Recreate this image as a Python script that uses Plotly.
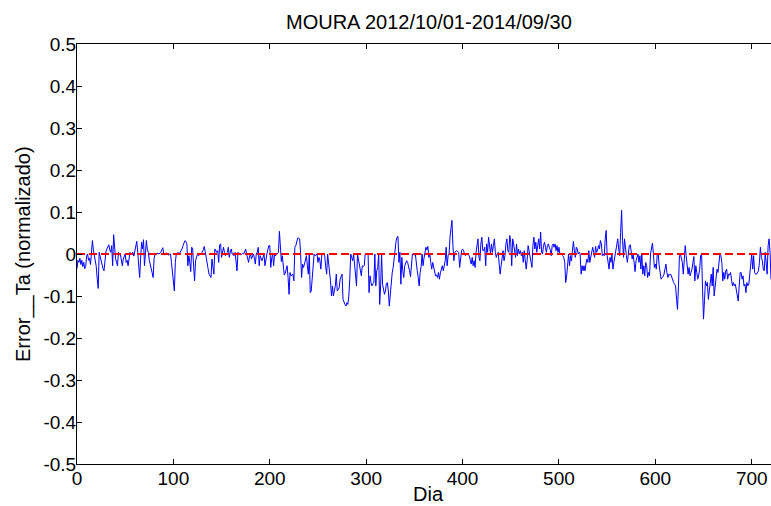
import plotly.graph_objects as go

# Daily normalized error values, day 0 .. 720
err = [
    -0.035, -0.015, -0.02, -0.01, -0.025, -0.015, -0.03, -0.02, -0.035, -0.03,
    -0.005, 0.0, -0.015, -0.01, -0.025, 0.005, 0.032, 0.01, -0.005, -0.025,
    -0.03, -0.06, -0.082, 0.004, -0.008, -0.015, -0.025, -0.035, -0.04, -0.01,
    0.005, 0.012, 0.02, 0.022, 0.01, 0.004, 0.02, -0.028, 0.046, 0.004,
    -0.01, -0.02, -0.028, 0.004, -0.002, 0.0, -0.015, -0.028, -0.012, -0.005,
    0.0, -0.02, -0.015, -0.028, -0.01, 0.004, 0.0, 0.002, 0.004, -0.005,
    0.008, 0.012, 0.03, 0.004, -0.02, -0.056, -0.01, 0.028, 0.012, 0.034,
    -0.028, 0.01, 0.032, 0.01, 0.004, -0.015, -0.028, -0.032, -0.045, -0.056,
    -0.01, 0.0, -0.002, 0.0, 0.002, 0.0, 0.002, 0.004, 0.01, 0.015,
    0.0, -0.002, 0.0, 0.002, 0.0, -0.003, 0.0, 0.0, -0.02, -0.04,
    -0.065, -0.088, -0.02, 0.0, 0.002, 0.004, 0.0, 0.004, 0.006, 0.012,
    0.02, 0.026, 0.032, 0.03, 0.024, -0.028, -0.004, -0.02, -0.042, 0.016,
    0.012, -0.03, -0.064, -0.016, -0.005, 0.0, -0.004, -0.002, 0.0, 0.002,
    0.004, 0.01, 0.018, 0.006, -0.005, -0.02, -0.035, -0.048, -0.052, -0.056,
    -0.012, -0.03, -0.048, 0.012, 0.006, 0.004, 0.008, -0.02, 0.022, 0.024,
    -0.008, 0.005, 0.016, 0.004, -0.004, 0.002, 0.004, 0.016, -0.008, 0.004,
    0.012, 0.0, -0.002, -0.004, 0.004, -0.015, -0.04, 0.004, 0.0, 0.0,
    -0.002, 0.0, 0.002, 0.0, 0.006, 0.012, 0.0, -0.01, -0.02, -0.005,
    0.0, -0.012, -0.005, 0.0, -0.01, -0.024, 0.0, 0.004, 0.016, -0.028,
    -0.004, -0.01, -0.016, -0.008, 0.0, -0.028, -0.01, 0.0, 0.01, 0.02,
    0.02, -0.032, -0.01, 0.0, -0.028, 0.0, -0.004, -0.002, 0.0, 0.004,
    0.054, 0.028, -0.018, -0.004, -0.03, -0.05, -0.046, -0.035, -0.028, -0.056,
    -0.096, -0.044, -0.052, -0.05, -0.048, -0.064, 0.016, 0.02, 0.03, 0.038,
    0.038, 0.036, 0.0, -0.056, -0.024, -0.032, -0.024, -0.01, -0.004, -0.028,
    -0.048, 0.0, -0.092, -0.088, -0.06, -0.048, 0.0, -0.004, -0.002, 0.0,
    -0.02, -0.008, -0.016, -0.036, 0.0, 0.0, -0.002, -0.004, -0.03, -0.048,
    0.0, -0.02, -0.044, -0.064, -0.1, -0.076, -0.1, -0.085, -0.076, -0.048,
    -0.088, -0.085, -0.08, -0.06, -0.05, -0.048, -0.108, -0.116, -0.12, -0.124,
    -0.116, -0.12, -0.1, -0.06, 0.0, -0.008, -0.016, 0.0, -0.028, -0.05,
    -0.076, 0.0, -0.012, -0.03, -0.044, -0.052, -0.028, -0.03, -0.028, 0.0,
    0.0, 0.0, 0.0, -0.092, -0.052, -0.068, -0.076, -0.07, -0.068, 0.0,
    -0.076, -0.04, -0.032, 0.0, -0.12, -0.076, 0.0, -0.072, -0.084, -0.096,
    -0.088, -0.07, -0.068, -0.088, -0.124, -0.092, -0.068, -0.045, -0.032, -0.008,
    0.004, 0.03, 0.04, 0.042, -0.02, 0.004, -0.072, -0.008, -0.04, -0.056,
    -0.028, -0.02, -0.016, -0.02, -0.028, -0.04, -0.054, -0.02, 0.0, 0.0,
    -0.002, 0.0, -0.028, -0.04, -0.056, -0.076, -0.044, -0.03, 0.0, -0.028,
    -0.01, 0.0, 0.016, 0.01, 0.018, -0.008, 0.0, -0.02, -0.036, -0.02,
    -0.03, -0.044, -0.052, -0.05, -0.056, -0.044, -0.06, -0.045, -0.036, -0.028,
    -0.04, -0.025, -0.016, 0.016, -0.028, -0.004, 0.0, 0.04, 0.06, 0.08,
    0.02, -0.016, 0.004, 0.006, 0.008, 0.006, 0.004, -0.032, -0.004, 0.008,
    0.012, 0.008, 0.0, -0.004, 0.0, 0.0, -0.002, -0.004, -0.015, -0.024,
    -0.008, -0.028, -0.016, -0.032, 0.004, 0.02, 0.036, -0.008, -0.016, 0.024,
    0.04, 0.008, 0.008, 0.016, -0.028, 0.024, 0.004, 0.04, 0.008, 0.0,
    0.024, 0.004, 0.02, 0.036, 0.004, -0.008, 0.0, 0.004, -0.024, -0.048,
    -0.028, -0.004, 0.008, -0.016, -0.004, 0.024, 0.036, 0.008, 0.004, 0.044,
    0.028, -0.028, 0.036, 0.024, 0.0, -0.008, 0.024, -0.004, 0.012, 0.0,
    0.008, -0.004, 0.004, -0.02, 0.008, -0.01, -0.036, -0.016, 0.02, 0.008,
    -0.008, -0.016, -0.032, 0.02, 0.04, 0.012, 0.028, 0.004, 0.024, 0.036,
    0.012, 0.052, 0.004, 0.0, 0.02, 0.028, 0.016, 0.004, 0.02, 0.024,
    0.016, 0.01, -0.004, 0.02, 0.024, 0.016, 0.024, 0.008, 0.02, 0.004,
    0.016, 0.0, 0.0, 0.0, -0.004, -0.008, -0.02, -0.068, -0.052, -0.02,
    0.0, -0.028, -0.004, -0.016, 0.004, 0.03, 0.008, -0.008, 0.016, 0.012,
    0.0, 0.004, 0.0, -0.048, -0.028, -0.04, -0.028, -0.04, -0.024, -0.012,
    -0.02, 0.008, -0.02, -0.008, 0.0, 0.016, 0.004, -0.008, 0.018, 0.004,
    0.008, 0.02, 0.012, 0.032, 0.024, -0.004, 0.0, -0.004, 0.036, 0.056,
    -0.004, -0.028, -0.036, -0.008, -0.02, 0.0, -0.036, -0.02, -0.004, 0.004,
    0.016, 0.036, 0.012, -0.004, 0.052, 0.104, 0.032, -0.008, 0.036, 0.01,
    -0.004, -0.02, 0.012, 0.02, 0.022, 0.008, -0.012, 0.0, -0.024, -0.042,
    -0.016, -0.004, 0.0, -0.02, -0.004, -0.036, 0.0, -0.048, -0.028, -0.052,
    -0.02, -0.028, -0.056, -0.044, -0.052, 0.0, 0.02, 0.026, 0.0, -0.032,
    -0.024, -0.036, 0.0, 0.0, -0.028, -0.052, -0.06, -0.056, -0.054, -0.048,
    -0.036, -0.024, -0.044, -0.056, -0.048, -0.05, -0.048, -0.056, -0.06, -0.068,
    -0.072, -0.076, -0.108, -0.132, -0.076, -0.004, 0.0, -0.008, -0.02, -0.048,
    -0.02, 0.02, -0.004, -0.028, -0.048, -0.032, -0.052, -0.044, -0.036, -0.02,
    -0.006, -0.064, -0.028, -0.044, -0.06, -0.05, -0.036, -0.004, 0.0, -0.084,
    -0.155, -0.11, -0.064, -0.076, -0.068, -0.108, -0.084, -0.068, -0.048, -0.076,
    -0.032, -0.1, -0.076, -0.068, -0.036, -0.044, -0.02, 0.0, -0.004, -0.02,
    -0.064, -0.044, -0.06, -0.04, -0.036, -0.06, -0.048, -0.05, -0.044, -0.064,
    -0.076, -0.068, -0.076, -0.072, -0.088, -0.092, -0.112, -0.076, -0.044, -0.044,
    -0.06, -0.052, -0.076, -0.072, -0.092, -0.068, -0.076, -0.072, -0.052, -0.02,
    0.0, -0.036, -0.004, -0.044, -0.048, -0.048, -0.042, -0.04, -0.02, 0.016,
    -0.008, -0.016, -0.036, -0.04, 0.004, -0.02, -0.048, 0.02, 0.036, 0.004, -0.06,
]
days = list(range(len(err)))

zero_level = 0.0
x_full_range = [0, 730]       # full axis extent (the picture is cut at ~720)
x_visible_range = [0, 720]
x_ticks = [0, 100, 200, 300, 400, 500, 600, 700]
y_ticks = [-0.5, -0.4, -0.3, -0.2, -0.1, 0.0, 0.1, 0.2, 0.3, 0.4, 0.5]
y_tick_text = ["-0.5", "-0.4", "-0.3", "-0.2", "-0.1", "0", "0.1", "0.2", "0.3", "0.4", "0.5"]

title_text = "MOURA 2012/10/01-2014/09/30"
x_title = "Dia"
y_title = "Error__Ta (normalizado)"

FONT = "Liberation Sans, Arial, sans-serif"
x_center = (x_full_range[0] + x_full_range[1]) / 2

fig = go.Figure()
fig.add_trace(go.Scatter(
    x=days, y=err, mode="lines",
    line=dict(color="#0000ff", width=1),
    showlegend=False, hoverinfo="skip",
))
fig.add_trace(go.Scatter(
    x=[days[0], days[-1]], y=[zero_level, zero_level], mode="lines",
    line=dict(color="#ff0000", width=2, dash="8px,4px"),
    showlegend=False, hoverinfo="skip",
))

fig.update_layout(
    width=771, height=506,
    margin=dict(l=77, r=0, t=44, b=42, pad=0),
    paper_bgcolor="white", plot_bgcolor="white",
    font=dict(family=FONT, size=19, color="black"),
    hovermode=False,
    annotations=[
        dict(text=title_text, xref="x", yref="paper", x=x_center, y=1.0,
             yshift=22, xanchor="center", yanchor="middle", showarrow=False,
             font=dict(size=20)),
        dict(text=x_title, xref="x", yref="paper", x=x_center, y=0.0,
             yshift=-30, xanchor="center", yanchor="middle", showarrow=False,
             font=dict(size=20)),
        dict(text=y_title, xref="paper", yref="paper", x=0.0, y=0.5,
             xshift=-54, xanchor="center", yanchor="middle", showarrow=False,
             textangle=-90, font=dict(size=20)),
    ],
)
fig.update_xaxes(
    range=x_visible_range, tickvals=x_ticks, ticks="inside", ticklen=5,
    tickcolor="black", showline=True, linecolor="black", linewidth=1,
    mirror="ticks", showgrid=False, zeroline=False,
    tickfont=dict(size=19), ticklabelstandoff=-3,
)
fig.update_yaxes(
    range=[-0.5, 0.5], tickvals=y_ticks, ticktext=y_tick_text,
    ticks="inside", ticklen=5, tickcolor="black", showline=True,
    linecolor="black", linewidth=1, mirror=False, showgrid=False,
    zeroline=False, tickfont=dict(size=19), ticklabelstandoff=-4,
)

fig.write_html(
    "out.html",
    config={"displayModeBar": False, "staticPlot": True},
    post_script="document.body.style.margin='0px';",
)
